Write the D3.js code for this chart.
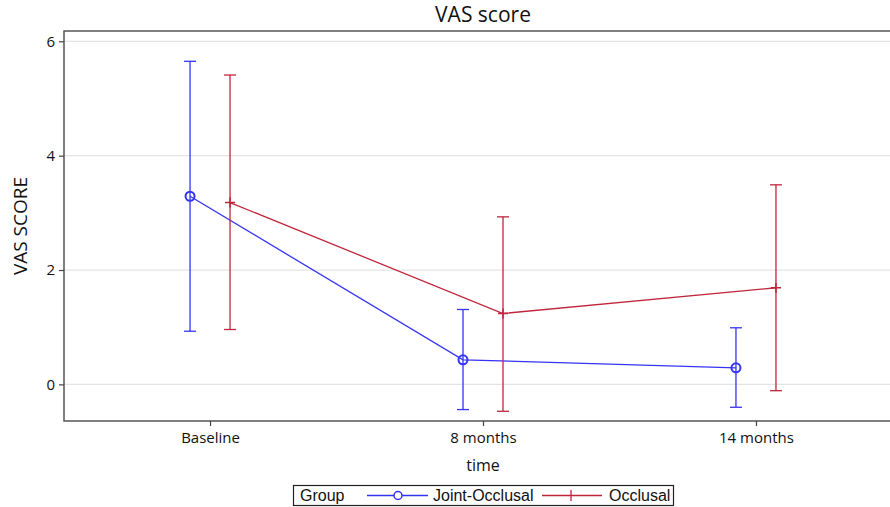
<!DOCTYPE html>
<html><head><meta charset="utf-8">
<script src="https://cdn.jsdelivr.net/npm/d3@7"></script>
<style>body{margin:0;background:#fff}svg{display:block}text{font-family:"Open Sans",sans-serif}</style>
</head><body><svg id="c" width="890" height="507"></svg>
<script>
const categories = ["Baseline", "8 months", "14 months"];
const seriesNames = ["Joint-Occlusal", "Occlusal"];
const jointMean = [3.29, 0.43, 0.29];
const jointLower = [0.93, -0.44, -0.40];
const jointUpper = [5.65, 1.31, 0.99];
const occMean = [3.18, 1.24, 1.69];
const occLower = [0.96, -0.47, -0.11];
const occUpper = [5.41, 2.93, 3.49];
const yTicks = [0, 2, 4, 6];

const W = 890, H = 507;
const m = {left: 64, top: 31, right: 902, bottom: 421};
const svg = d3.select("#c");

const x = d3.scalePoint().domain(categories).range([m.left, m.right]).padding(0.535);
const y = d3.scaleLinear().domain([-0.64, 6.18]).range([m.bottom, m.top]);

const colors = {"Joint-Occlusal": "#3434f5", "Occlusal": "#c0263c"};
const offsets = {"Joint-Occlusal": -20, "Occlusal": 20};

svg.append("g").selectAll("line").data(yTicks).join("line")
  .attr("x1", m.left).attr("x2", m.right)
  .attr("y1", d => y(d)).attr("y2", d => y(d))
  .attr("stroke", "#e4e4e4").attr("stroke-width", 1.3);

svg.append("rect").attr("x", m.left).attr("y", m.top)
  .attr("width", m.right - m.left).attr("height", m.bottom - m.top)
  .attr("fill", "none").attr("stroke", "#555").attr("stroke-width", 1.5);

const yAxis = svg.append("g").attr("transform", `translate(${m.left},0)`)
  .call(d3.axisLeft(y).tickValues(yTicks).tickSize(5).tickPadding(4).tickFormat(d3.format("d")));
const xAxis = svg.append("g").attr("transform", `translate(0,${m.bottom})`)
  .call(d3.axisBottom(x).tickSize(5).tickPadding(6));
[yAxis, xAxis].forEach(a => {
  a.attr("font-family", null).attr("font-size", null);
  a.select(".domain").remove();
  a.selectAll(".tick line").attr("stroke", "#444").attr("stroke-width", 1.2);
  a.selectAll(".tick text").attr("fill", "#111").style("font-size", "15px");
});

svg.append("text").attr("x", (m.left + m.right) / 2).attr("y", 22).attr("text-anchor", "middle")
  .style("font-size", "21px").attr("fill", "#111").text("VAS score");
svg.append("text").attr("x", (m.left + m.right) / 2).attr("y", 471).attr("text-anchor", "middle")
  .style("font-size", "16px").attr("fill", "#111").text("time");
svg.append("text").attr("transform", `translate(27,${(m.top + m.bottom) / 2}) rotate(-90)`)
  .attr("text-anchor", "middle").style("font-size", "19px").attr("fill", "#111").text("VAS SCORE");

const series = [
  {name: "Joint-Occlusal", mean: jointMean, lo: jointLower, hi: jointUpper},
  {name: "Occlusal", mean: occMean, lo: occLower, hi: occUpper}
];

series.forEach(s => {
  const c = colors[s.name], off = offsets[s.name];
  const pts = categories.map((cat, i) => ({cx: x(cat) + off, m: s.mean[i], lo: s.lo[i], hi: s.hi[i]}));
  const g = svg.append("g");
  g.selectAll(".eb").data(pts).join("line").attr("x1", d => d.cx).attr("x2", d => d.cx)
    .attr("y1", d => y(d.lo)).attr("y2", d => y(d.hi)).attr("stroke", c).attr("stroke-width", 1.3);
  ["lo", "hi"].forEach(k => {
    g.selectAll(".cap" + k).data(pts).join("line").attr("x1", d => d.cx - 6).attr("x2", d => d.cx + 6)
      .attr("y1", d => y(d[k])).attr("y2", d => y(d[k])).attr("stroke", c).attr("stroke-width", 1.3);
  });
  g.append("path").datum(pts).attr("fill", "none").attr("stroke", c).attr("stroke-width", 1.3)
    .attr("d", d3.line().x(d => d.cx).y(d => y(d.m)));
  if (s.name === "Joint-Occlusal") {
    g.selectAll(".mk").data(pts).join("circle").attr("cx", d => d.cx).attr("cy", d => y(d.m))
      .attr("r", 4.5).attr("fill", "none").attr("stroke", c).attr("stroke-width", 2);
  } else {
    g.selectAll(".mk").data(pts).join("path")
      .attr("d", d => `M${d.cx - 5},${y(d.m)}H${d.cx + 5}M${d.cx},${y(d.m) - 5}V${y(d.m) + 5}`)
      .attr("stroke", c).attr("stroke-width", 1.5);
  }
});

const lf = '"Liberation Sans",Arial,sans-serif';
const lg = svg.append("g");
lg.append("rect").attr("x", 293.5).attr("y", 485.5).attr("width", 380).attr("height", 20)
  .attr("fill", "#fff").attr("stroke", "#222").attr("stroke-width", 1.2);
lg.append("text").attr("x", 300).attr("y", 501).style("font-family", lf).style("font-size", "16px").attr("fill", "#111").text("Group");
lg.append("line").attr("x1", 367).attr("x2", 428).attr("y1", 495.5).attr("y2", 495.5).attr("stroke", colors["Joint-Occlusal"]).attr("stroke-width", 1.3);
lg.append("circle").attr("cx", 398).attr("cy", 495.5).attr("r", 4).attr("fill", "#fff").attr("stroke", colors["Joint-Occlusal"]).attr("stroke-width", 1.5);
lg.append("text").attr("x", 433).attr("y", 501).style("font-family", lf).style("font-size", "16px").attr("fill", "#111").text(seriesNames[0]);
lg.append("line").attr("x1", 542).attr("x2", 602).attr("y1", 495.5).attr("y2", 495.5).attr("stroke", colors["Occlusal"]).attr("stroke-width", 1.3);
lg.append("line").attr("x1", 571).attr("x2", 571).attr("y1", 490).attr("y2", 501).attr("stroke", colors["Occlusal"]).attr("stroke-width", 1.3);
lg.append("text").attr("x", 609).attr("y", 501).style("font-family", lf).style("font-size", "16px").attr("fill", "#111").text(seriesNames[1]);
</script></body></html>
